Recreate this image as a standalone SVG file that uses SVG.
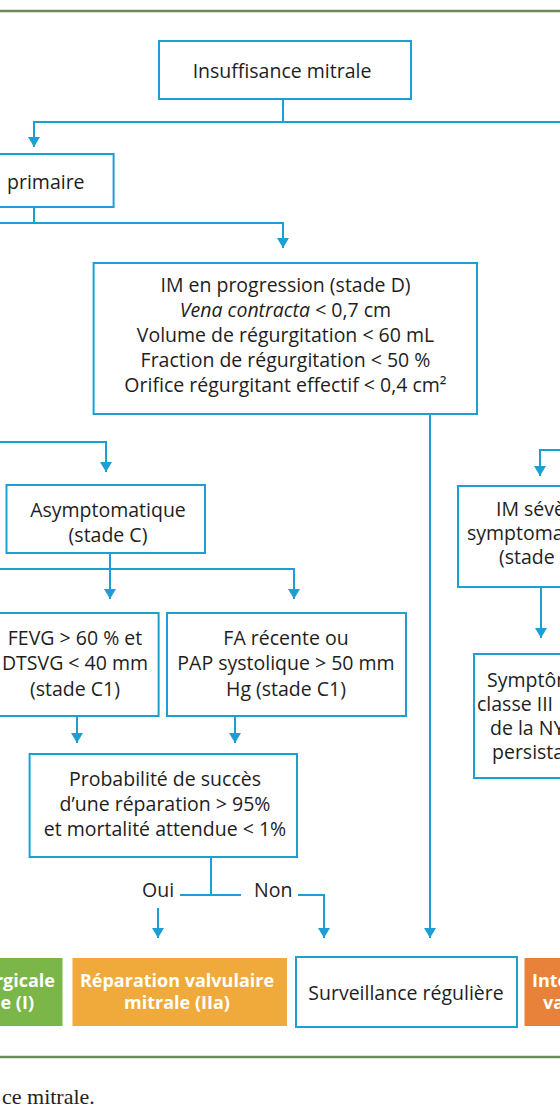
<svg xmlns="http://www.w3.org/2000/svg" width="560" height="1120" viewBox="0 0 560 1120">
<defs>
<marker id="ah" markerUnits="userSpaceOnUse" markerWidth="12" markerHeight="12" refX="10" refY="6" orient="auto" viewBox="0 0 10 12">
<path d="M0,0 L10,6 L0,12 z" fill="#1e9fd4"/>
</marker>
<style>
.box{fill:#fff;stroke:#1e9fd4;stroke-width:2}
.t{font-family:"Open Sans","Noto Sans",sans-serif;font-size:19.5px;fill:#1e1e1e;text-anchor:middle}
.ts{font-family:"Open Sans","Noto Sans",sans-serif;font-size:19.5px;fill:#1e1e1e;text-anchor:start}
.w{font-family:"Open Sans","Noto Sans",sans-serif;font-size:18px;font-weight:700;fill:#fff;text-anchor:middle}
.c{fill:none;stroke:#1e9fd4;stroke-width:2}
.rule{stroke:#6b8c5a;stroke-width:2.5}
</style>
</defs>
<rect x="0" y="0" width="560" height="1120" fill="#fff"/>
<line class="rule" x1="0" y1="11" x2="560" y2="11"/>
<line class="rule" x1="0" y1="1057" x2="560" y2="1057"/>

<g id="connectors">
<path class="c" d="M283,99 V122"/>
<path class="c" d="M560,122 H34 V147" marker-end="url(#ah)"/>
<path class="c" d="M34,207 V223"/>
<path class="c" d="M0,223 H283 V248" marker-end="url(#ah)"/>
<path class="c" d="M430,414 V938" marker-end="url(#ah)"/>
<path class="c" d="M0,442 H106 V472" marker-end="url(#ah)"/>
<path class="c" d="M110,553 V599" marker-end="url(#ah)"/>
<path class="c" d="M0,569 H294 V599" marker-end="url(#ah)"/>
<path class="c" d="M77,716 V743" marker-end="url(#ah)"/>
<path class="c" d="M235,716 V743" marker-end="url(#ah)"/>
<path class="c" d="M211,857 V895"/>
<path class="c" d="M180,895 H241"/>
<path class="c" d="M158,908 V938" marker-end="url(#ah)"/>
<path class="c" d="M298,895 H324 V938" marker-end="url(#ah)"/>
<path class="c" d="M560,450 H540 V476" marker-end="url(#ah)"/>
<path class="c" d="M541,587 V638" marker-end="url(#ah)"/>
</g>

<g id="n-insuffisance">
<rect class="box" x="159" y="41" width="252" height="58"/>
<text class="t" x="282" y="78">Insuffisance mitrale</text>
</g>

<g id="n-primaire">
<rect class="box" x="-10" y="154" width="123.6" height="53"/>
<text class="ts" x="7" y="189">primaire</text>
</g>

<g id="n-progression">
<rect class="box" x="93.6" y="263" width="383.4" height="151"/>
<text class="t" x="285.5" y="292">IM en progression (stade D)</text>
<text class="t" x="285.5" y="317"><tspan font-style="italic">Vena contracta</tspan> &lt; 0,7 cm</text>
<text class="t" x="285.5" y="342">Volume de régurgitation &lt; 60 mL</text>
<text class="t" x="285.5" y="367">Fraction de régurgitation &lt; 50 %</text>
<text class="t" x="285.5" y="392">Orifice régurgitant effectif &lt; 0,4 cm²</text>
</g>

<g id="n-asymptomatique">
<rect class="box" x="6.5" y="485" width="198.5" height="68"/>
<text class="t" x="108" y="517">Asymptomatique</text>
<text class="t" x="108" y="542">(stade C)</text>
</g>

<g id="n-fevg">
<rect class="box" x="-10" y="613" width="168.6" height="103"/>
<text class="t" x="75" y="645">FEVG &gt; 60 % et</text>
<text class="t" x="75" y="670">DTSVG &lt; 40 mm</text>
<text class="t" x="75" y="696">(stade C1)</text>
</g>

<g id="n-fa">
<rect class="box" x="167" y="613" width="239" height="103"/>
<text class="t" x="286" y="645">FA récente ou</text>
<text class="t" x="286" y="670">PAP systolique &gt; 50 mm</text>
<text class="t" x="286" y="696">Hg (stade C1)</text>
</g>

<g id="n-probabilite">
<rect class="box" x="29.6" y="754" width="267.4" height="103"/>
<text class="t" x="165" y="786">Probabilité de succès</text>
<text class="t" x="165" y="811">d’une réparation &gt; 95%</text>
<text class="t" x="165" y="836">et mortalité attendue &lt; 1%</text>
</g>

<g id="labels">
<text class="ts" x="142" y="897">Oui</text>
<text class="ts" x="254" y="897">Non</text>
</g>

<g id="n-severe">
<rect class="box" x="458" y="486" width="120" height="101"/>
<text class="ts" x="496" y="516">IM sévè</text>
<text class="ts" x="467" y="540">symptoma</text>
<text class="ts" x="499" y="564">(stade</text>
</g>

<g id="n-symptomes">
<rect class="box" x="474" y="654" width="100" height="124"/>
<text class="ts" x="487" y="687">Symptôm</text>
<text class="ts" x="477" y="711">classe III</text>
<text class="ts" x="490" y="735">de la NY</text>
<text class="ts" x="492" y="759">persista</text>
</g>

<g id="n-chirurgicale">
<rect x="-5" y="958" width="67.5" height="68" fill="#7ab648"/>
<text class="w" x="55" y="987" style="text-anchor:end">rgicale</text>
<text class="w" x="34" y="1009" style="text-anchor:end">e (I)</text>
</g>

<g id="n-reparation">
<rect x="72.5" y="958" width="214.5" height="68" fill="#f0aa3c"/>
<text class="w" x="177" y="987">Réparation valvulaire</text>
<text class="w" x="177" y="1009">mitrale (IIa)</text>
</g>

<g id="n-surveillance">
<rect class="box" x="296" y="957" width="221" height="70"/>
<text class="t" x="406" y="1000">Surveillance régulière</text>
</g>

<g id="n-intervention">
<rect x="524.5" y="958" width="40" height="68" fill="#e8823a"/>
<text class="w" x="532" y="987" style="text-anchor:start">Inte</text>
<text class="w" x="543" y="1009" style="text-anchor:start">va</text>
</g>

<text x="2" y="1104" font-family="Liberation Serif, serif" font-size="22" fill="#222">ce mitrale.</text>
</svg>
